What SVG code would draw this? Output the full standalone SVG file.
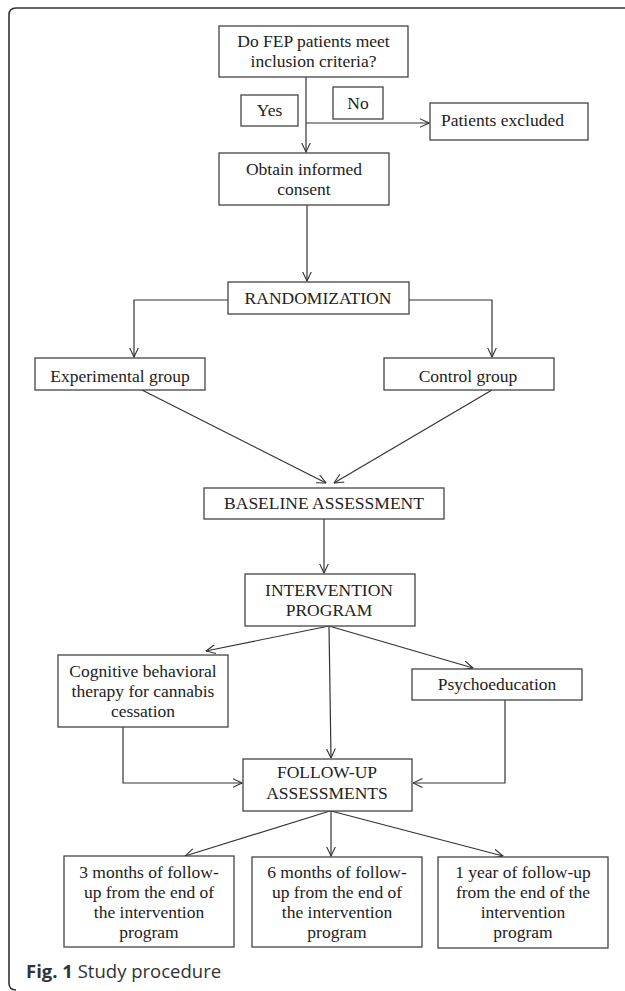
<svg xmlns="http://www.w3.org/2000/svg" width="625" height="991" viewBox="0 0 625 991">
<defs>
<marker id="arr" viewBox="0 0 10 10" refX="9.5" refY="5" markerWidth="10" markerHeight="10" markerUnits="userSpaceOnUse" orient="auto">
<path d="M0,0.5 L9.5,5 L0,9.5" fill="none" stroke="#333" stroke-width="1.1"/>
</marker>
<style>
.box{fill:#fff;stroke:#444;stroke-width:1.3}
.t{font-family:"Liberation Serif","Times New Roman",serif;font-size:17.5px;fill:#222;text-anchor:middle}
.ln{fill:none;stroke:#333;stroke-width:1.2}
.ar{fill:none;stroke:#333;stroke-width:1.2;marker-end:url(#arr)}
.cap{font-family:"Open Sans","Noto Sans",sans-serif;font-size:18.5px;fill:#333}
</style>
</defs>
<rect width="625" height="991" fill="#fff"/>
<path d="M16,990 Q9,990 9,983 L9,15 Q9,8 16,8 L625,8" fill="none" stroke="#333" stroke-width="1.6"/>

<g id="connectors">
<path class="ar" d="M306,77 V152"/>
<path class="ar" d="M306,123 H429"/>
<path class="ar" d="M307,205 V281"/>
<path class="ar" d="M228,300 H134 V357"/>
<path class="ar" d="M398,300 H492 V357"/>
<path class="ar" d="M142,390 L326,483"/>
<path class="ar" d="M492,390 L334,483"/>
<path class="ar" d="M324,519 V573"/>
<path class="ar" d="M329,626 L206,651"/>
<path class="ar" d="M329,626 L331,758"/>
<path class="ar" d="M329,626 L473,668"/>
<path class="ar" d="M123,727 V783 H242"/>
<path class="ar" d="M505,700 V783 H413"/>
<path class="ar" d="M330,811 L185,856"/>
<path class="ar" d="M331,811 V856"/>
<path class="ar" d="M331,811 L503,856"/>
</g>

<g id="q">
<rect class="box" x="219" y="26" width="189" height="51"/>
<text class="t" x="313.5" y="47">Do FEP patients meet</text>
<text class="t" x="313.5" y="67">inclusion criteria?</text>
</g>
<g id="yes">
<rect class="box" x="241" y="95" width="57" height="31"/>
<text class="t" x="269.5" y="116">Yes</text>
</g>
<g id="no">
<rect class="box" x="333" y="87" width="50" height="32"/>
<text class="t" x="358" y="109">No</text>
</g>
<g id="excluded">
<rect class="box" x="430" y="103" width="158" height="37"/>
<text class="t" x="441" y="126" style="text-anchor:start">Patients excluded</text>
</g>
<g id="consent">
<rect class="box" x="219" y="153" width="170" height="52"/>
<text class="t" x="304" y="175">Obtain informed</text>
<text class="t" x="304" y="195">consent</text>
</g>
<g id="random">
<rect class="box" x="228" y="282" width="181" height="32"/>
<text class="t" x="318" y="304">RANDOMIZATION</text>
</g>
<g id="experimental">
<rect class="box" x="35" y="358" width="170" height="32"/>
<text class="t" x="120" y="382">Experimental group</text>
</g>
<g id="control">
<rect class="box" x="384" y="358" width="170" height="32"/>
<text class="t" x="468" y="382">Control group</text>
</g>
<g id="baseline">
<rect class="box" x="204" y="488" width="240" height="31"/>
<text class="t" x="324" y="509">BASELINE ASSESSMENT</text>
</g>
<g id="intervention">
<rect class="box" x="245" y="574" width="170" height="52"/>
<text class="t" x="329" y="596">INTERVENTION</text>
<text class="t" x="329" y="616">PROGRAM</text>
</g>
<g id="cbt">
<rect class="box" x="58" y="655" width="170" height="72"/>
<text class="t" x="143" y="677">Cognitive behavioral</text>
<text class="t" x="143" y="697">therapy for cannabis</text>
<text class="t" x="143" y="717">cessation</text>
</g>
<g id="psycho">
<rect class="box" x="412" y="669" width="170" height="31"/>
<text class="t" x="497" y="690">Psychoeducation</text>
</g>
<g id="followup">
<rect class="box" x="243" y="759" width="169" height="52"/>
<text class="t" x="327" y="778">FOLLOW-UP</text>
<text class="t" x="327" y="799">ASSESSMENTS</text>
</g>
<g id="m3">
<rect class="box" x="64" y="856" width="170" height="91"/>
<text class="t" x="149" y="878">3 months of follow-</text>
<text class="t" x="149" y="898">up from the end of</text>
<text class="t" x="149" y="918">the intervention</text>
<text class="t" x="149" y="938">program</text>
</g>
<g id="m6">
<rect class="box" x="252" y="857" width="170" height="90"/>
<text class="t" x="337" y="878">6 months of follow-</text>
<text class="t" x="337" y="898">up from the end of</text>
<text class="t" x="337" y="918">the intervention</text>
<text class="t" x="337" y="938">program</text>
</g>
<g id="y1">
<rect class="box" x="438" y="857" width="170" height="91"/>
<text class="t" x="523" y="878">1 year of follow-up</text>
<text class="t" x="523" y="898">from the end of the</text>
<text class="t" x="523" y="918">intervention</text>
<text class="t" x="523" y="938">program</text>
</g>
<text class="cap" x="26" y="978"><tspan font-weight="bold">Fig. 1</tspan> Study procedure</text>
</svg>
